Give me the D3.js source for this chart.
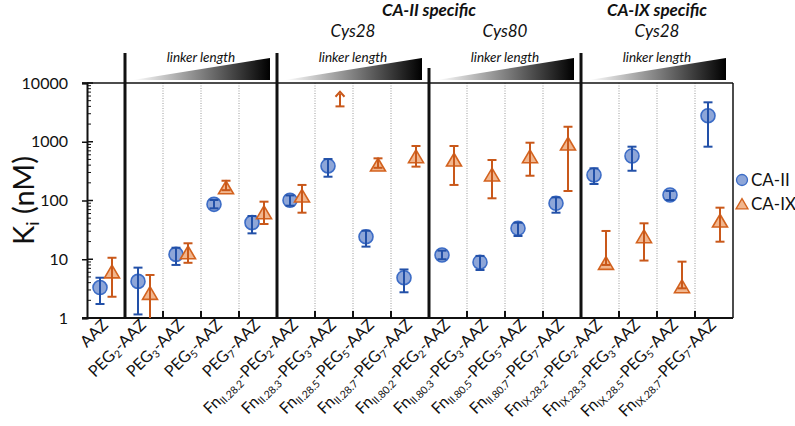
<!DOCTYPE html>
<html><head><meta charset="utf-8">
<script src="https://cdn.jsdelivr.net/npm/d3@7"></script>
<style>body{margin:0;background:#fff}svg{display:block}text{font-family:Lato,"Open Sans",sans-serif}</style>
</head><body><svg id="c" width="795" height="426"></svg>
<script>
// ---- data ----
const labels = [
  [["AAZ",""]],
  [["PEG",""],["2","s"],["-AAZ",""]],
  [["PEG",""],["3","s"],["-AAZ",""]],
  [["PEG",""],["5","s"],["-AAZ",""]],
  [["PEG",""],["7","s"],["-AAZ",""]],
  [["Fn",""],["II.28.2","s"],["-PEG",""],["2","s"],["-AAZ",""]],
  [["Fn",""],["II.28.3","s"],["-PEG",""],["3","s"],["-AAZ",""]],
  [["Fn",""],["II.28.5","s"],["-PEG",""],["5","s"],["-AAZ",""]],
  [["Fn",""],["II.28.7","s"],["-PEG",""],["7","s"],["-AAZ",""]],
  [["Fn",""],["II.80.2","s"],["-PEG",""],["2","s"],["-AAZ",""]],
  [["Fn",""],["II.80.3","s"],["-PEG",""],["3","s"],["-AAZ",""]],
  [["Fn",""],["II.80.5","s"],["-PEG",""],["5","s"],["-AAZ",""]],
  [["Fn",""],["II.80.7","s"],["-PEG",""],["7","s"],["-AAZ",""]],
  [["Fn",""],["IX.28.2","s"],["-PEG",""],["2","s"],["-AAZ",""]],
  [["Fn",""],["IX.28.3","s"],["-PEG",""],["3","s"],["-AAZ",""]],
  [["Fn",""],["IX.28.5","s"],["-PEG",""],["5","s"],["-AAZ",""]],
  [["Fn",""],["IX.28.7","s"],["-PEG",""],["7","s"],["-AAZ",""]]
];
const caII   = [3.3, 4.2, 12.1, 86, 42, 101, 387, 24.2, 4.85, 11.8, 8.9, 33.6, 89.6, 272, 572, 124, 2775];
const caIIlo = [1.73, 1.15, 8.0, 73.6, 27.6, 81.6, 254, 16.4, 2.74, 10, 6.56, 24.9, 62, 191, 321, 102, 824];
const caIIhi = [4.85, 7.2, 15.7, 102, 54.5, 122, 508, 30.6, 6.7, 14, 11.4, 41.9, 113, 353, 824, 145, 4690];
const caIX   = [6.1, 2.63, 12.9, 165, 62, 119, null, 402, 557, 489, 272, 557, 916, 8.5, 24.2, 3.41, 44.8];
const caIXlo = [2.3, 0.5, 8.7, 150, 39.8, 62, 4000, 360, 377, 184, 109, 264, 145, 8, 9.5, 3.2, 19.9];
const caIXhi = [10.6, 5.4, 18.7, 217, 95.5, 184, 7100, 522, 847, 847, 489, 963, 1800, 30.3, 40.9, 9.1, 75.5];
const groups = [
  {start:1, end:4, site:""},
  {start:5, end:8, site:"Cys28"},
  {start:9, end:12, site:"Cys80"},
  {start:13, end:16, site:"Cys28"}
];
const specHeaders = [{text:"CA-II specific", from:5, to:12}, {text:"CA-IX specific", from:13, to:16}];
const yTicks = [1, 10, 100, 1000, 10000];
const seriesNames = ["CA-II", "CA-IX"];

// ---- layout ----
const L = 87, R = 733, T = 83, B = 318;
const svg = d3.select("#c");
const x = d3.scaleBand().domain(d3.range(labels.length)).range([L, R]);
const y = d3.scaleLog().domain([1, 10000]).range([B, T]);
const bw = x.bandwidth();
const blueS = "#3c6cc6", blueF = "#8ea6d8", blueE = "#2250a8";
const orS = "#d3621e", orF = "#f1b68e", orE = "#c9581a";

const defs = svg.append("defs");
const grad = defs.append("linearGradient").attr("id","g");
grad.append("stop").attr("offset","0%").attr("stop-color","#fff");
grad.append("stop").attr("offset","100%").attr("stop-color","#000");
const clip = defs.append("clipPath").attr("id","pc");
clip.append("rect").attr("x",L).attr("y",T-40).attr("width",R-L).attr("height",B-T+40);

// dotted gridlines + bottom ticks at inner boundaries
const inner = [];
groups.forEach(g => { for (let i = g.start+1; i <= g.end; i++) inner.push(i); });
svg.selectAll(".grid").data(inner).join("line")
  .attr("x1", d => x(d)).attr("x2", d => x(d)).attr("y1", T).attr("y2", B-6)
  .attr("stroke", "#9a9a9a").attr("stroke-width", 1).attr("stroke-dasharray", "1,1.5");
svg.selectAll(".bt").data(inner).join("line")
  .attr("x1", d => x(d)).attr("x2", d => x(d)).attr("y1", B-7).attr("y2", B)
  .attr("stroke", "#111").attr("stroke-width", 2);

// frame
svg.append("line").attr("x1",L-5).attr("x2",R).attr("y1",T).attr("y2",T).attr("stroke","#111").attr("stroke-width",1.5);
svg.append("line").attr("x1",R).attr("x2",R).attr("y1",T).attr("y2",B).attr("stroke","#111").attr("stroke-width",1.5);

// y axis
const yAxis = d3.axisLeft(y).tickValues(yTicks).tickFormat(d3.format("d")).tickSize(5).tickPadding(14);
const ya = svg.append("g").attr("transform",`translate(${L},0)`).call(yAxis);
ya.select(".domain").attr("stroke","#111").attr("stroke-width",2);
ya.selectAll(".tick line").attr("stroke","#111").attr("stroke-width",1.5);
ya.selectAll(".tick text").attr("font-size",16).attr("fill","#111");
const minor = [];
for (let e = 0; e < 4; e++) for (let m = 2; m <= 9; m++) minor.push(m*Math.pow(10,e));
svg.selectAll(".mt").data(minor).join("line")
  .attr("x1",L).attr("x2",L+4).attr("y1",d=>y(d)).attr("y2",d=>y(d)).attr("stroke","#111").attr("stroke-width",1);
svg.selectAll(".Mt").data(yTicks).join("line")
  .attr("x1",L).attr("x2",L+6).attr("y1",d=>y(d)).attr("y2",d=>y(d)).attr("stroke","#111").attr("stroke-width",1.5);

// x baseline
svg.append("line").attr("x1",L-5).attr("x2",R).attr("y1",B).attr("y2",B).attr("stroke","#111").attr("stroke-width",2);

// y label
const yl = svg.append("text").attr("transform",`translate(34,${(T+B)/2}) rotate(-90)`)
  .attr("text-anchor","middle").attr("font-size",29).attr("fill","#111");
yl.append("tspan").text("K");
yl.append("tspan").text("i").attr("font-size",18).attr("dy",5);
yl.append("tspan").text(" (nM)").attr("dy",-5);

// group separators (thick), wedges, headers
groups.forEach((g,i) => {
  const xs = x(g.start);
  svg.append("line").attr("x1",xs).attr("x2",xs).attr("y1",B).attr("y2", i===2 ? 68 : 53)
    .attr("stroke","#111").attr("stroke-width",3);
  const gx0 = x(g.start), gx1 = x(g.end)+bw;
  svg.append("path").attr("d",`M${gx0+8},80 L${gx1-7},80 L${gx1-7},58 Z`).attr("fill","url(#g)");
  svg.append("text").attr("x",(gx0+gx1)/2).attr("y",62).attr("text-anchor","middle")
    .attr("font-size",13.5).attr("font-style","italic").attr("fill","#111").text("linker length");
  if (g.site) svg.append("text").attr("x",(gx0+gx1)/2).attr("y",37).attr("text-anchor","middle")
    .attr("font-size",17).attr("font-style","italic").attr("fill","#111").text(g.site);
});
specHeaders.forEach(h => {
  const cx = (x(h.from) + x(h.to) + bw)/2;
  svg.append("text").attr("x",cx).attr("y",16).attr("text-anchor","middle")
    .attr("font-size",17).attr("font-style","italic").attr("font-weight","bold").attr("fill","#111").text(h.text);
});

// x labels
labels.forEach((parts,i) => {
  const t = svg.append("text").attr("text-anchor","end").attr("font-size",16).attr("fill","#111")
    .attr("transform",`translate(${x(i)+bw/2+3},${B+8}) rotate(-45)`);
  let shifted = false;
  parts.forEach(([s,k]) => {
    const sp = t.append("tspan").text(s);
    if (k === "s") { sp.attr("font-size",10.5).attr("dy", shifted ? 0 : 3); shifted = true; }
    else if (shifted) { sp.attr("dy",-3); shifted = false; }
  });
});

// error bars + markers
const pl = svg.append("g").attr("clip-path","url(#pc)");
const cxII = i => x(i)+bw/2-6, cxIX = i => x(i)+bw/2+6;
const tri = (cx,cy,s) => `M${cx},${cy-s*0.9} L${cx+s},${cy+s*0.8} L${cx-s},${cy+s*0.8} Z`;
function ebar(g, cx, lo, hi, col, capLo) {
  g.append("line").attr("x1",cx).attr("x2",cx).attr("y1",y(Math.max(lo,0.5))).attr("y2",y(hi)).attr("stroke",col).attr("stroke-width",2);
  g.append("line").attr("x1",cx-4.5).attr("x2",cx+4.5).attr("y1",y(hi)).attr("y2",y(hi)).attr("stroke",col).attr("stroke-width",2);
  if (capLo) g.append("line").attr("x1",cx-4.5).attr("x2",cx+4.5).attr("y1",y(lo)).attr("y2",y(lo)).attr("stroke",col).attr("stroke-width",2);
}
caII.forEach((v,i) => {
  pl.append("circle").attr("cx",cxII(i)).attr("cy",y(v)).attr("r",7).attr("fill",blueF).attr("stroke",blueS).attr("stroke-width",1.6);
  ebar(pl, cxII(i), caIIlo[i], caIIhi[i], blueE, true);
});
caIX.forEach((v,i) => {
  if (v === null) {
    const cx = cxIX(i);
    pl.append("line").attr("x1",cx).attr("x2",cx).attr("y1",y(caIXlo[i])).attr("y2",y(caIXhi[i])+2).attr("stroke",orE).attr("stroke-width",2);
    pl.append("line").attr("x1",cx-4.5).attr("x2",cx+4.5).attr("y1",y(caIXlo[i])).attr("y2",y(caIXlo[i])).attr("stroke",orE).attr("stroke-width",2);
    pl.append("path").attr("d",`M${cx-4.5},${y(caIXhi[i])+5} L${cx},${y(caIXhi[i])} L${cx+4.5},${y(caIXhi[i])+5}`)
      .attr("fill","none").attr("stroke",orE).attr("stroke-width",2);
    return;
  }
  pl.append("path").attr("d",tri(cxIX(i),y(v),7.5)).attr("fill",orF).attr("stroke",orS).attr("stroke-width",1.6);
  ebar(pl, cxIX(i), caIXlo[i], caIXhi[i], orE, caIXlo[i] >= 1);
});

// legend
const lg = svg.append("g");
lg.append("circle").attr("cx",742).attr("cy",180).attr("r",5.5).attr("fill",blueF).attr("stroke",blueS).attr("stroke-width",1.3);
lg.append("path").attr("d",tri(742,204,6)).attr("fill",orF).attr("stroke",orS).attr("stroke-width",1.3);
lg.selectAll("text").data(seriesNames).join("text").attr("x",751).attr("y",(d,i)=>186+i*24)
  .attr("font-size",17).attr("fill","#111").text(d=>d);
</script></body></html>
